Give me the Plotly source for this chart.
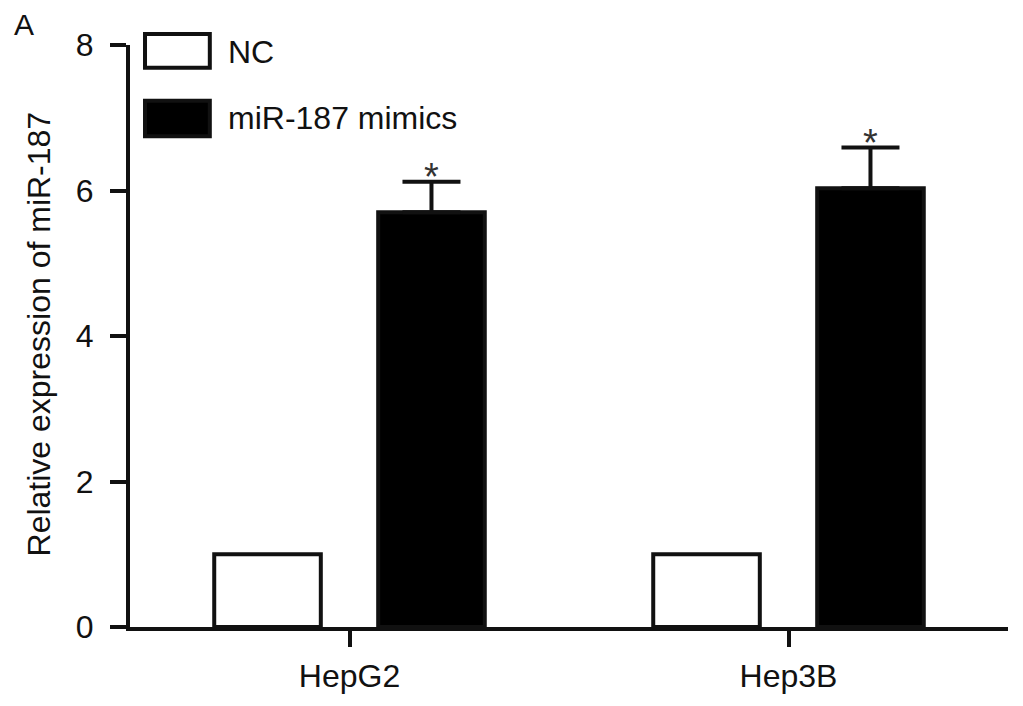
import plotly.graph_objects as go

# data
cells = ["HepG2", "Hep3B"]
nc_vals = [1.0, 1.0]
mimic_vals = [5.70, 6.03]
mimic_err = [0.42, 0.56]
y_ticks = [0, 2, 4, 6, 8]

FONT = "Liberation Sans, Arial, sans-serif"
INK = "#111111"

fig = go.Figure()
fig.add_trace(go.Bar(
    x=cells, y=nc_vals, name="NC",
    marker=dict(color="white", line=dict(color=INK, width=4)),
))
fig.add_trace(go.Bar(
    x=cells, y=mimic_vals, name="miR-187 mimics",
    marker=dict(color="black", line=dict(color=INK, width=4)),
    error_y=dict(type="data", symmetric=False, array=mimic_err,
                 arrayminus=[0] * len(mimic_err),
                 color=INK, thickness=4, width=29),
))

# significance stars above the mimic bars
for c, v, e in zip(cells, mimic_vals, mimic_err):
    fig.add_annotation(x=c, y=v + e, xref="x", yref="y", text="*",
                       showarrow=False, xshift=82, yanchor="bottom", yshift=-18,
                       font=dict(family=FONT, size=38, color="#333333"))

# hand-drawn legend boxes like the original
fig.add_shape(type="rect", xref="paper", yref="paper",
              x0=0.0171, x1=0.0909, y0=0.9608, y1=1.0188,
              fillcolor="white", line=dict(color=INK, width=4))
fig.add_shape(type="rect", xref="paper", yref="paper",
              x0=0.0171, x1=0.0909, y0=0.843, y1=0.9044,
              fillcolor="black", line=dict(color=INK, width=4))
fig.add_annotation(x=0.109, y=0.988, xref="paper", yref="paper", text="NC",
                   showarrow=False, xanchor="left", yanchor="middle",
                   font=dict(family=FONT, size=32, color=INK))
fig.add_annotation(x=0.109, y=0.874, xref="paper", yref="paper", text="miR-187 mimics",
                   showarrow=False, xanchor="left", yanchor="middle",
                   font=dict(family=FONT, size=32, color=INK))

# y title and panel letter
fig.add_annotation(x=-0.1034, y=0.503, xref="paper", yref="paper",
                   text="Relative expression of miR-187", textangle=-90,
                   showarrow=False, xanchor="center", yanchor="middle",
                   font=dict(family=FONT, size=32, color=INK))
fig.add_annotation(x=-0.134, y=1.035, xref="paper", yref="paper", text="A",
                   showarrow=False, xanchor="left", yanchor="middle",
                   font=dict(family=FONT, size=30, color=INK))

# page body adds an 8px offset, so the figure is 8px smaller with trimmed margins
fig.update_layout(
    width=1015, height=698,
    margin=dict(l=122, r=15, t=37, b=75),
    plot_bgcolor="white", paper_bgcolor="white",
    barmode="group", bargap=0.253, bargroupgap=0.35,
    showlegend=False,
    font=dict(family=FONT, size=32, color=INK),
)
fig.update_xaxes(
    range=[-0.5, 1.5], showline=True, linecolor=INK, linewidth=4,
    ticks="outside", ticklen=16, tickwidth=4, tickcolor=INK,
    showgrid=False, zeroline=False, ticklabelstandoff=2,
    tickfont=dict(family=FONT, size=32, color=INK),
)
fig.update_yaxes(
    range=[0, 8], tickvals=y_ticks, showline=True, linecolor=INK, linewidth=4,
    ticks="outside", ticklen=16, tickwidth=4, tickcolor=INK,
    showgrid=False, zeroline=False, ticklabelstandoff=10,
    tickfont=dict(family=FONT, size=32, color=INK),
)

fig.write_html("out.html")
